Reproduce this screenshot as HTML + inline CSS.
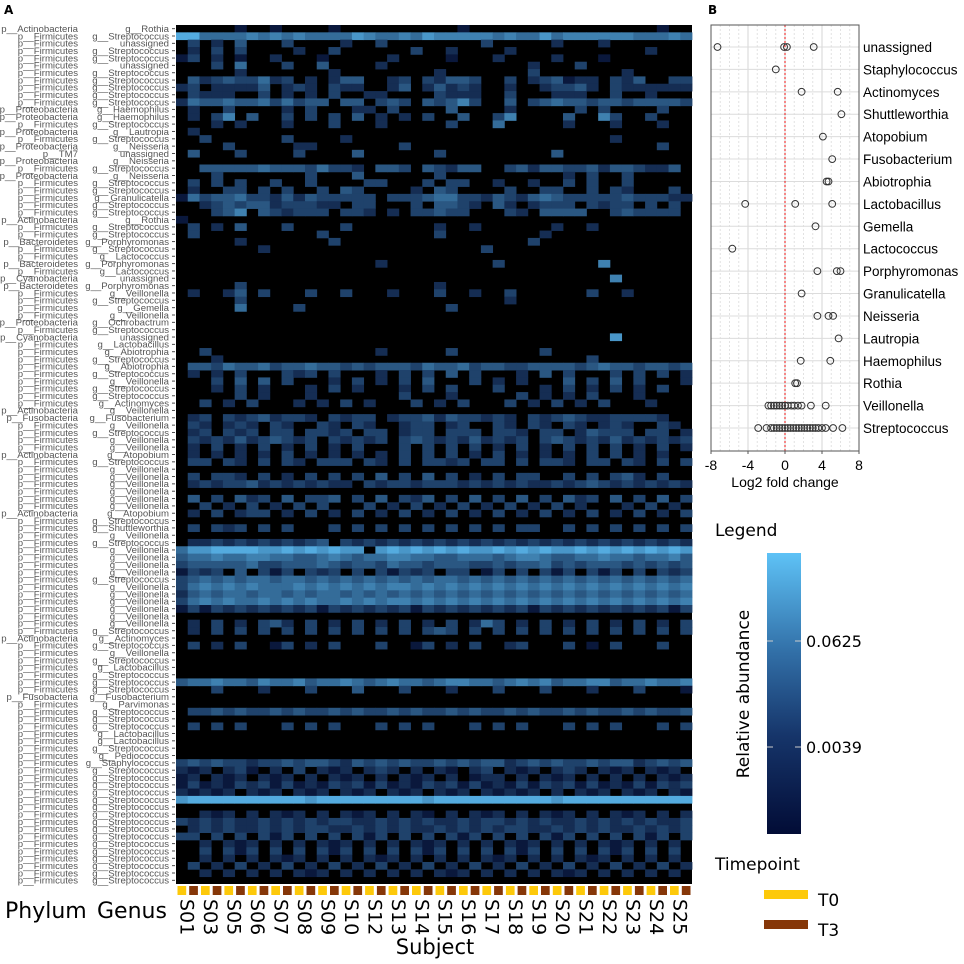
<!DOCTYPE html>
<html><head><meta charset="utf-8"><style>
html,body{margin:0;padding:0;background:#fff;}
svg{display:block;font-family:"DejaVu Sans","Liberation Sans",sans-serif;}
.rl{font-family:"Liberation Sans",sans-serif;font-size:9.6px;fill:#555;}
.lb{font-family:"Liberation Sans",sans-serif;}
</style></head><body>
<svg id="chart" width="964" height="964" viewBox="0 0 964 964">
<text x="4" y="14" font-size="12" font-weight="bold">A</text>
<text x="708" y="14" font-size="12" font-weight="bold">B</text>
<g id="heat"></g>
<g id="rowlabels"></g>
<g id="tp"></g>
<g id="subj"></g>
<text x="5" y="918" font-size="22">Phylum</text>
<text x="97" y="918" font-size="22">Genus</text>
<text x="435" y="954" font-size="21" text-anchor="middle">Subject</text>
<g id="dot"></g>
<g>
<defs><linearGradient id="cg" x1="0" y1="1" x2="0" y2="0">
<stop offset="0" stop-color="#020c36"/><stop offset="0.35" stop-color="#16356a"/><stop offset="0.65" stop-color="#3270a8"/><stop offset="1" stop-color="#5ec2f6"/></linearGradient></defs>
<text x="715" y="536" font-size="17">Legend</text>
<rect x="767" y="553" width="34" height="281" fill="url(#cg)"/>
<line x1="767" y1="641" x2="773" y2="641" stroke="#ccc"/><line x1="795" y1="641" x2="801" y2="641" stroke="#ccc"/>
<line x1="767" y1="747" x2="773" y2="747" stroke="#ccc"/><line x1="795" y1="747" x2="801" y2="747" stroke="#ccc"/>
<text x="806" y="647" font-size="16">0.0625</text>
<text x="806" y="753" font-size="16">0.0039</text>
<text transform="translate(749,694) rotate(-90)" font-size="17" text-anchor="middle">Relative abundance</text>
<text x="715" y="870" font-size="17">Timepoint</text>
<rect x="764" y="890" width="44" height="9" fill="#fdc90a"/>
<text x="818" y="906" font-size="17">T0</text>
<rect x="764" y="920" width="44" height="9" fill="#863708"/>
<text x="818" y="936" font-size="17">T3</text>
</g>
</svg>
<script>
const subjects=["S01","S03","S05","S06","S07","S08","S09","S10","S12","S13","S14","S15","S16","S17","S18","S19","S20","S21","S22","S23","S24","S25"];
const timepoints=["T0","T3"];
const phyla=["Actinobacteria","Firmicutes","Firmicutes","Firmicutes","Firmicutes","Firmicutes","Firmicutes","Firmicutes","Firmicutes","Firmicutes","Firmicutes","Proteobacteria","Proteobacteria","Firmicutes","Proteobacteria","Firmicutes","Proteobacteria","TM7","Proteobacteria","Firmicutes","Proteobacteria","Firmicutes","Firmicutes","Firmicutes","Firmicutes","Firmicutes","Actinobacteria","Firmicutes","Firmicutes",
"Bacteroidetes","Firmicutes","Firmicutes","Bacteroidetes","Firmicutes","Cyanobacteria","Bacteroidetes","Firmicutes","Firmicutes","Firmicutes","Firmicutes","Proteobacteria","Firmicutes","Cyanobacteria","Firmicutes","Firmicutes","Firmicutes","Firmicutes","Firmicutes","Firmicutes","Firmicutes","Firmicutes","Firmicutes","Actinobacteria","Fusobacteria","Firmicutes","Firmicutes","Firmicutes","Firmicutes","Actinobacteria","Firmicutes","Firmicutes","Firmicutes","Firmicutes","Firmicutes","Firmicutes","Firmicutes","Actinobacteria","Firmicutes","Firmicutes","Firmicutes","Firmicutes","Firmicutes","Firmicutes","Firmicutes","Firmicutes","Firmicutes","Firmicutes","Firmicutes","Firmicutes","Firmicutes","Firmicutes","Firmicutes","Firmicutes","Actinobacteria","Firmicutes","Firmicutes","Firmicutes","Firmicutes","Firmicutes","Firmicutes","Firmicutes","Fusobacteria","Firmicutes","Firmicutes","Firmicutes","Firmicutes","Firmicutes","Firmicutes","Firmicutes","Firmicutes","Firmicutes",
"Firmicutes","Firmicutes","Firmicutes","Firmicutes","Firmicutes","Firmicutes","Firmicutes","Firmicutes","Firmicutes","Firmicutes","Firmicutes","Firmicutes","Firmicutes","Firmicutes","Firmicutes","Firmicutes"];
const genera=["Rothia","Streptococcus","unassigned","Streptococcus","Streptococcus","unassigned","Streptococcus","Streptococcus","Streptococcus","Streptococcus","Streptococcus","Haemophilus","Haemophilus","Streptococcus","Lautropia","Streptococcus","Neisseria","unassigned","Neisseria","Streptococcus","Neisseria","Streptococcus","Streptococcus","Granulicatella","Streptococcus","Streptococcus","Rothia","Streptococcus","Streptococcus",
"Porphyromonas","Streptococcus","Lactococcus","Porphyromonas","Lactococcus","unassigned","Porphyromonas","Veillonella","Streptococcus","Gemella","Veillonella","Ochrobactrum","Streptococcus","unassigned","Lactobacillus","Abiotrophia","Streptococcus","Abiotrophia","Streptococcus","Veillonella","Streptococcus","Streptococcus","Actinomyces","Veillonella","Fusobacterium","Veillonella","Streptococcus","Veillonella","Veillonella","Atopobium","Streptococcus","Veillonella","Veillonella","Veillonella","Veillonella","Veillonella","Veillonella","Atopobium","Streptococcus","Shuttleworthia","Veillonella","Streptococcus","Veillonella","Veillonella","Veillonella","Veillonella","Streptococcus","Veillonella","Veillonella","Veillonella","Veillonella","Veillonella","Veillonella","Streptococcus","Actinomyces","Streptococcus","Veillonella","Streptococcus","Lactobacillus","Streptococcus","Streptococcus","Streptococcus","Fusobacterium","Parvimonas","Streptococcus","Streptococcus","Streptococcus","Lactobacillus","Lactobacillus","Streptococcus","Pediococcus","Staphylococcus",
"Streptococcus","Streptococcus","Streptococcus","Streptococcus","Streptococcus","Streptococcus","Streptococcus","Streptococcus","Streptococcus","Streptococcus","Streptococcus","Streptococcus","Streptococcus","Streptococcus","Streptococcus","Streptococcus"];
const abundance=[
"00000100100001000000000010000000000000000100","88555565656555576556576666656557566666655565",
"03020400030000200300000000300000200020000000","02030300002003000000300200002000000000002000",
"13020100200010000020000100020000200010000000","00030500030040000200000000000020003000000000",
"00000200000002000000002000000030000000200000","04234335230202440023032443003023412203240033",
"23022224023203220024024232002002334203222222","03222003020203002200003222003000222003002000",
"25445445353440440343043463004034544344344443","02003000020300022030000400002000003030000300",
"02036040030303040202030040036000040063003000","00020200020003000200000300050000020002000200",
"02000000000000000000000000000000000000000000","00300000030000200000000000000000000002000000",
"00003000002200000003000000000000000000000300","04000300003000040000003000000000400000000000",
"00000000000000000000000000000000000000000000","00444445444353320443043244003424433424432240",
"00030000000300040000003000000000020300300000","03030300300300003300030330020020030300300000",
"02003303030030430000204300003003300303200030","15344533242433333033345533243245433333433322",
"00234344233322033000304432042023330323303030","00034604323330332020334330003204444003433330",
"10000000000000000000000000000000000000000000","03020400030000300000002002000000200200000000",
"03000000000030000000003000000002000000000000","00000200000003000000000000000030000000000000",
"00000002000000000000000000300000000000000000","00000000000000000000000000000000000000000000",
"00000000000000000200000000030000000060000000","00000000000000000000000000000000000000000000",
"00000000000000000000000000000000000006000000","00000300000000000000002000000000000000000000",
"02002403000300300020003002003000000300200000","00000300000000000000000000002000000000000000",
"00000500003000000000000300000000000000000000","00000000000000000000000000000000000000000000",
"00000000000000000000000000000000000000000000","00000000000000000000000000000000000000000000",
"00000000000000000000000000000000000007000000","00000000000000000000000000000000000000000000",
"00300000000000000200000300000003000000000000","00020000000000000000000000000000000300000000",
"04435445344544343444354453443344443454434434","02020300032303000203030403000204030003030302",
"00030404030002030203040003020200040304030002","00020302000203020002030300030002030203020300",
"00000302000200000003000200000302020300020000","00302030002020302000302030003020302030002000",
"00000000000000000000000000000000000000000000","02303234233203233023342433232032343223333200",
"03202320320032032002330230032032032023200320","02303230330332303302330333033203302433303302",
"03232423432303232303432324232303432324232323","02030203020302030003030303020302030303020302",
"02020202030202020203030302030202020303020200","03303203032033303203033230330303320330320303",
"00000000000000000000000000000000000000000000","03033203020303030403040302030330030303420300",
"02323342323232203233233323232322323432323232","00000000000000000000000000000000000000000000",
"04030423040334030403240304030403042304030403","00302030203030003020302030203020302000203020",
"02030233020302030203020302030203020302030203","00000000000000000000000000000000000000000000",
"03032303030003030303030303030330030303030303","00000000000000000000000000000000000000000000",
"02232323232340323232323232323232323232323232","57788887787878770787878787787878778787878787",
"45565566554456545566554455545665445565545564","34444453344454344354434443343445343444343434",
"13230403130323030313230330130303130313030323","34545455455454545454545545454545454545454545",
"35656565556565656566565656565656565656565656","24545545545455454545454545454545454545454545",
"35656556565655656566565656565656565656565656","13132323232313232323132323232313232323232313",
"00000000000000000000000000000000000000000000","02030203420302030203020302530203020302030203",
"02030303030303030303034303030303030303030303","00000000000000000000000000000000000000000000",
"03020300130203000300130203002300030103000300","00000000000000000000000000000000000000000000",
"00000000000000000000000000000000000000000000","00000000000000000000000000000000000000000000",
"00000000000000000000000000000000000000000000","45565546556455654565545665545656455664556556",
"00030002000300040003000200030003000200030001","00000000000000000000000000000000000000000000",
"00000000000000000000000000000000000000000000","03343433434334343343433434334343343433434334",
"00000000000000000000000000000000000000000000","03030300030303000303030003030300030303000303",
"00000000000000000000000000000000000000000000","00000000000000000000000000000000000000000000",
"00000000000000000000000000000000000000000000","00000000000000000000000000000000000000000000",
"34343323343443243434334343442343433434423434","21202310203021202320202102302120232021202120",
"12021202120202120202120201220202120202020212","13121323131213231312132313121313231312131323",
"21212021202120212021202120212120202120212021","78888888888788888888878888888888788888888888",
"00000000000000000000000000000000000000000000","00212020212020212020210202120202120202120202",
"32323223232323322323232232332323223232323223","02323223232332232323223232323322323232232323",
"33030303130303031303030313030303130303031303","00202120202021202020212020202120202021202020",
"00303130303031303030313030303130303031303030","00202020212020202120202020212020202120202020",
"03020302030203020302030203020302030203020302","00202020202120202020202120202020212020202020",
"00000000000000000000000000000000000000000000"];
const fcGenera=["unassigned","Staphylococcus","Actinomyces","Shuttleworthia","Atopobium","Fusobacterium","Abiotrophia","Lactobacillus","Gemella","Lactococcus","Porphyromonas","Granulicatella","Neisseria","Lautropia","Haemophilus","Rothia","Veillonella","Streptococcus"];
const fcValues=[[-7.3,-0.1,0.2,3.1],[-1],[1.8,5.7],[6.1],[4.1],[5.1],[4.5,4.7],[-4.3,1.1,5.1],[3.3],[-5.7],[3.5,5.6,6.0],[1.8],[3.5,4.7,5.2],[5.8],[1.7,4.9],[1.1,1.3],
[-1.8,-1.5,-1.2,-0.9,-0.6,-0.3,0,0.3,0.7,1.0,1.4,1.8,2.8,4.4],
[-2.9,-2.0,-1.5,-1.2,-0.9,-0.6,-0.3,0,0.3,0.6,0.9,1.2,1.5,1.8,2.1,2.4,2.7,3.0,3.3,3.6,4.0,4.4,5.2,6.2]];
const fcTicks=[-8,-4,0,4,8];

const NS="http://www.w3.org/2000/svg";
function mk(tag,attrs,parent){const e=document.createElementNS(NS,tag);for(const k in attrs)e.setAttribute(k,attrs[k]);parent.appendChild(e);return e;}
const HX0=176,HX1=692,HY0=25,HY1=884;
const nCol=subjects.length*timepoints.length,nRow=abundance.length;
const cw=(HX1-HX0)/nCol,rh=(HY1-HY0)/nRow;
const xCol=i=>HX0+i*cw, yRow=r=>HY0+r*rh;
const c0=[10,24,60],c1=[94,192,246];
function colorOf(v){if(v<=0)return"#000";const t=(v-1)/8;const c=c0.map((a,i)=>Math.round(a+(c1[i]-a)*t));return`rgb(${c})`;}
const heat=document.getElementById('heat');
mk('rect',{x:HX0,y:HY0,width:HX1-HX0,height:HY1-HY0,fill:'#000'},heat);
abundance.forEach((row,r)=>{for(let c=0;c<nCol;c++){const v=+(row.charAt(c)||0);if(!v)continue;
 const el=mk('rect',{x:xCol(c).toFixed(2),y:yRow(r).toFixed(2),width:(cw+0.4).toFixed(2),height:(rh+0.4).toFixed(2),fill:colorOf(v)},heat);
 
 }});
const rl=document.getElementById('rowlabels');
for(let r=0;r<nRow;r++){const yc=yRow(r)+rh/2;
 const p=mk('text',{x:78,y:(yc+3.3).toFixed(1),'text-anchor':'end',class:'rl'},rl);p.textContent='p__'+phyla[r];
 
 
 const g=mk('text',{x:169,y:(yc+3.3).toFixed(1),'text-anchor':'end',class:'rl'},rl);g.textContent=(genera[r]==='unassigned'?'':'g__')+genera[r];
 
 
 mk('line',{x1:172,x2:175,y1:yc,y2:yc,stroke:'#4d4d4d','stroke-width':1},rl);}
const tp=document.getElementById('tp'),subj=document.getElementById('subj');
for(let c=0;c<nCol;c++){const el=mk('rect',{x:(xCol(c)+1.5).toFixed(1),y:886,width:(cw-3).toFixed(1),height:9,fill:c%2?'#863708':'#fdc90a'},tp);
 
 }
subjects.forEach((s,i)=>{const xc=xCol(2*i+1);
 const t=mk('text',{transform:`translate(${(xc-7).toFixed(1)},899) rotate(90)`,'font-size':19},subj);t.textContent=s;
 
 });
// panel B
const dot=document.getElementById('dot');
const BX0=711,BX1=859,BY0=25,BY1=451;
const xs=v=>BX0+(v+8)/16*(BX1-BX0);
const rowY=i=>47+i*(428-47)/(fcGenera.length-1);
for(let v=-8;v<=8;v++){mk('line',{x1:xs(v),x2:xs(v),y1:BY0,y2:BY1,stroke:v%4===0?'#d5d5d5':'#e2e2e2','stroke-dasharray':v%4===0?'':'2,2'},dot);}
fcGenera.forEach((g,i)=>{mk('line',{x1:BX0,x2:BX1,y1:rowY(i),y2:rowY(i),stroke:'#dcdcdc'},dot);
 const t=mk('text',{x:863,y:rowY(i)+5,'font-size':13.5,class:'lb'},dot);t.textContent=g;
 
 });
mk('line',{x1:xs(0),x2:xs(0),y1:BY0,y2:BY1,stroke:'#ee1111','stroke-dasharray':'2,2'},dot);
fcValues.forEach((arr,i)=>arr.forEach(v=>{const c=mk('circle',{cx:xs(v).toFixed(1),cy:rowY(i).toFixed(1),r:3.4,fill:'none',stroke:'#333','stroke-width':1},dot);
 
 }));
mk('rect',{x:BX0,y:BY0,width:BX1-BX0,height:BY1-BY0,fill:'none',stroke:'#555','stroke-width':1},dot);
fcTicks.forEach(v=>{mk('line',{x1:xs(v),x2:xs(v),y1:BY1,y2:BY1+3,stroke:'#555'},dot);
 const t=mk('text',{x:xs(v),y:470,'font-size':14,'text-anchor':'middle',class:'lb'},dot);t.textContent=v;
 
 });
const xt=mk('text',{x:785,y:487,'font-size':14,'text-anchor':'middle',class:'lb'},dot);xt.textContent='Log2 fold change';


</script>
</body></html>
